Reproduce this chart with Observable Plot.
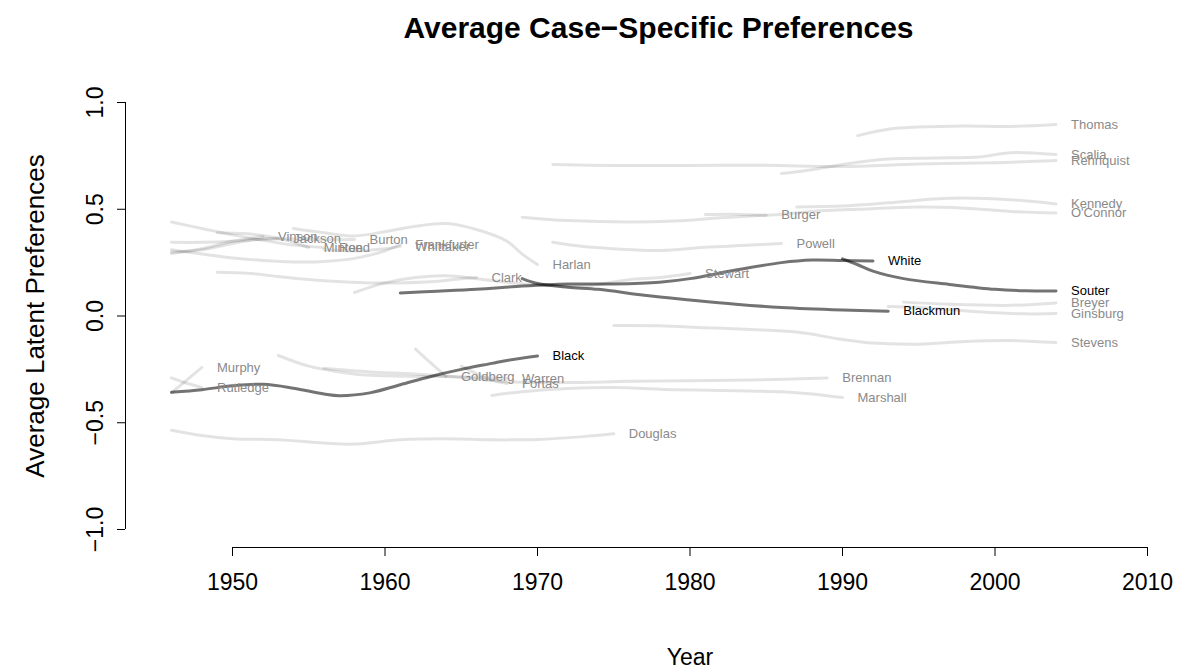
<!DOCTYPE html>
<html>
<head>
<meta charset="utf-8">
<script src="https://cdn.jsdelivr.net/npm/d3@7"></script>
<script src="https://cdn.jsdelivr.net/npm/@observablehq/plot@0.6"></script>
<style>
  html, body { margin: 0; padding: 0; background: white; }
</style>
</head>
<body>
<div id="chart"></div>
<script>
// ---- Data (year, average latent preference) ----
const highlighted = ["Black", "White", "Blackmun", "Souter"];

const Black = [[1946,-0.357],[1948,-0.345],[1950,-0.327],[1952,-0.32],[1954,-0.338],[1956,-0.365],[1957,-0.373],[1959,-0.36],[1961,-0.322],[1963,-0.283],[1965,-0.25],[1967,-0.222],[1968,-0.208],[1970,-0.187]];
const White = [[1961,0.108],[1963,0.115],[1966,0.125],[1969,0.14],[1972,0.15],[1975,0.15],[1978,0.158],[1980,0.175],[1983,0.215],[1986,0.25],[1988,0.262],[1990,0.26],[1992,0.258]];
const Blackmun = [[1969,0.175],[1970,0.152],[1972,0.135],[1974,0.125],[1977,0.097],[1980,0.075],[1983,0.055],[1986,0.04],[1990,0.028],[1993,0.022]];
const Souter = [[1990,0.268],[1991,0.24],[1992,0.21],[1994,0.175],[1997,0.148],[2000,0.125],[2002,0.118],[2004,0.117]];

const Thomas = [[1991,0.845],[1993,0.875],[1995,0.885],[1998,0.89],[2001,0.888],[2004,0.897]];
const Scalia = [[1986,0.667],[1988,0.685],[1990,0.71],[1993,0.735],[1996,0.74],[1999,0.745],[2001,0.765],[2004,0.756]];
const Rehnquist = [[1971,0.71],[1975,0.705],[1980,0.705],[1985,0.706],[1990,0.70],[1995,0.712],[2000,0.718],[2004,0.728]];
const Kennedy = [[1987,0.51],[1990,0.515],[1993,0.53],[1996,0.548],[1998,0.553],[2001,0.545],[2004,0.525]];
const OConnor = [[1981,0.475],[1983,0.476],[1985,0.472],[1988,0.49],[1991,0.50],[1995,0.51],[1998,0.505],[2001,0.49],[2004,0.483]];
const Burger = [[1969,0.463],[1972,0.447],[1976,0.44],[1979,0.445],[1982,0.46],[1985,0.472]];
const Powell = [[1971,0.345],[1973,0.325],[1975,0.315],[1978,0.307],[1981,0.322],[1984,0.332],[1986,0.34]];
const Stevens = [[1975,-0.045],[1978,-0.046],[1981,-0.055],[1984,-0.063],[1987,-0.075],[1990,-0.11],[1992,-0.127],[1995,-0.132],[1998,-0.12],[2001,-0.115],[2004,-0.124]];
const Breyer = [[1994,0.065],[1997,0.055],[2001,0.05],[2004,0.061]];
const Ginsburg = [[1993,0.045],[1995,0.04],[1997,0.03],[2000,0.015],[2002,0.01],[2004,0.012]];
const Stewart = [[1958,0.11],[1960,0.155],[1962,0.18],[1964,0.188],[1966,0.175],[1968,0.158],[1970,0.145],[1973,0.14],[1976,0.17],[1978,0.18],[1980,0.199]];
const Clark = [[1949,0.205],[1951,0.2],[1953,0.185],[1956,0.165],[1959,0.155],[1961,0.155],[1963,0.16],[1965,0.175],[1966,0.18]];
const Harlan = [[1954,0.41],[1956,0.39],[1958,0.375],[1960,0.395],[1962,0.42],[1964,0.433],[1966,0.405],[1968,0.35],[1969,0.29],[1970,0.241]];
const Douglas = [[1946,-0.535],[1948,-0.56],[1950,-0.575],[1953,-0.58],[1956,-0.595],[1958,-0.60],[1961,-0.58],[1964,-0.575],[1967,-0.58],[1970,-0.578],[1973,-0.565],[1975,-0.552]];
const Warren = [[1953,-0.185],[1955,-0.235],[1957,-0.262],[1959,-0.278],[1962,-0.283],[1965,-0.285],[1968,-0.293]];
const Brennan = [[1956,-0.245],[1959,-0.262],[1962,-0.272],[1965,-0.288],[1968,-0.308],[1972,-0.312],[1976,-0.306],[1980,-0.303],[1984,-0.3],[1989,-0.29]];
const Goldberg = [[1962,-0.155],[1963,-0.22],[1964,-0.283]];
const Fortas = [[1965,-0.235],[1966,-0.27],[1967,-0.30],[1968,-0.316]];
const Marshall = [[1967,-0.372],[1969,-0.355],[1972,-0.34],[1975,-0.335],[1979,-0.345],[1983,-0.35],[1986,-0.355],[1988,-0.365],[1990,-0.382]];
const Murphy = [[1946,-0.36],[1947,-0.30],[1948,-0.241]];
const Rutledge = [[1946,-0.29],[1947,-0.315],[1948,-0.335]];
const Vinson = [[1946,0.293],[1948,0.315],[1950,0.35],[1952,0.372]];
const Jackson = [[1946,0.30],[1948,0.31],[1950,0.34],[1952,0.362],[1953,0.363]];
const Burton = [[1946,0.345],[1948,0.345],[1950,0.35],[1952,0.36],[1954,0.362],[1956,0.358],[1958,0.358]];
const Frankfurter = [[1946,0.31],[1948,0.29],[1950,0.272],[1952,0.26],[1954,0.253],[1956,0.255],[1958,0.27],[1960,0.305],[1961,0.335]];
const Reed = [[1946,0.44],[1948,0.41],[1950,0.38],[1952,0.355],[1954,0.332],[1956,0.321]];
const Minton = [[1949,0.39],[1951,0.385],[1953,0.365],[1955,0.321]];
const Whittaker = [[1956,0.31],[1958,0.305],[1960,0.315],[1961,0.326]];

const justices = [
  ["Murphy", Murphy], ["Rutledge", Rutledge], ["Vinson", Vinson], ["Jackson", Jackson],
  ["Burton", Burton], ["Frankfurter", Frankfurter], ["Reed", Reed], ["Minton", Minton],
  ["Whittaker", Whittaker], ["Clark", Clark], ["Harlan", Harlan], ["Douglas", Douglas],
  ["Warren", Warren], ["Brennan", Brennan], ["Goldberg", Goldberg], ["Fortas", Fortas],
  ["Marshall", Marshall], ["Stewart", Stewart], ["Burger", Burger], ["Powell", Powell],
  ["Rehnquist", Rehnquist], ["Stevens", Stevens], ["O'Connor", OConnor], ["Scalia", Scalia],
  ["Kennedy", Kennedy], ["Thomas", Thomas], ["Ginsburg", Ginsburg], ["Breyer", Breyer],
  ["Black", Black], ["White", White], ["Blackmun", Blackmun], ["Souter", Souter]
];

const xTicks = [1950, 1960, 1970, 1980, 1990, 2000, 2010];
const yTicks = [-1.0, -0.5, 0.0, 0.5, 1.0];
const titleText = "Average Case\u2212Specific Preferences";
const xLabel = "Year";
const yLabel = "Average Latent Preferences";

// ---- Build tables ----
const rows = justices.flatMap(([name, pts]) =>
  pts.map(([year, value]) => ({name, year, value, hi: highlighted.includes(name)})));
const ends = justices.map(([name, pts]) => {
  const [year, value] = pts[pts.length - 1];
  return {name, year, value, hi: highlighted.includes(name)};
});

const chart = Plot.plot({
  width: 1183,
  height: 672,
  marginLeft: 125,
  marginRight: 36,
  marginTop: 102,
  marginBottom: 125,
  style: {fontFamily: "'Liberation Sans', Arial, Helvetica, sans-serif", background: "white", color: "black"},
  x: {domain: [1950, 2010], range: [232, 1147]},
  y: {domain: [-1, 1], range: [529, 102]},
  marks: [
    // light lines
    Plot.line(rows.filter(d => !d.hi), {x: "year", y: "value", z: "name", stroke: "black", strokeOpacity: 0.11, strokeWidth: 3, curve: "catmull-rom"}),
    // highlighted lines
    Plot.line(rows.filter(d => d.hi), {x: "year", y: "value", z: "name", stroke: "black", strokeOpacity: 0.55, strokeWidth: 3, curve: "catmull-rom"}),
    // labels
    Plot.text(ends, {x: "year", y: "value", text: "name", textAnchor: "start", dx: 15, fontSize: 13,
      fill: d => d.hi ? "black" : "#8a8a8a"}),
    // axes
    Plot.ruleY([yTicks[0]], {x1: xTicks[0], x2: xTicks[xTicks.length - 1], dy: 18, stroke: "black", strokeWidth: 1}),
    Plot.axisX({ticks: xTicks, tickSize: 9, tickPadding: 17, tickFormat: d => String(d), fontSize: 23, label: null}),
    Plot.ruleX([xTicks[0]], {y1: yTicks[0], y2: yTicks[yTicks.length - 1], dx: -107, stroke: "black", strokeWidth: 1}),
    Plot.axisY({ticks: yTicks, tickSize: 8, tickPadding: 15, tickRotate: -90, tickFormat: d3.format(".1f"), fontSize: 23, label: null}),
    // titles
    Plot.text([titleText], {frameAnchor: "top", dx: 22, dy: -74, lineAnchor: "middle", fontSize: 30, fontWeight: "bold"}),
    Plot.text([xLabel], {x: 1980, frameAnchor: "bottom", dy: 117, fontSize: 23}),
    Plot.text([yLabel], {y: 0, frameAnchor: "left", dx: -90, rotate: -90, textAnchor: "middle", fontSize: 26})
  ]
});
document.getElementById("chart").append(chart);
</script>
</body>
</html>
